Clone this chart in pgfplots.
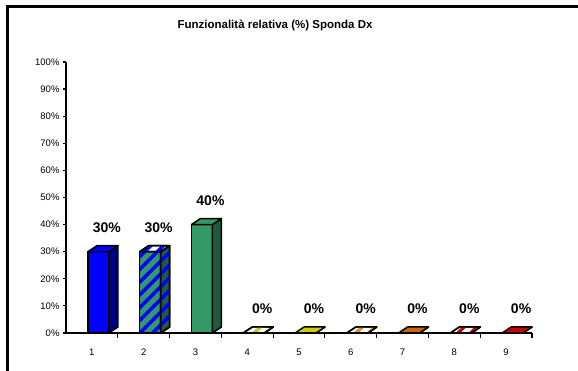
\documentclass[border=0pt]{standalone}
\usepackage{fontspec}
\setmainfont{Liberation Sans}
\usepackage{pgfplots}
\pgfplotsset{compat=1.18}
\usetikzlibrary{patterns.meta}

\definecolor{barblue}{RGB}{0,0,255}
\definecolor{barblueside}{RGB}{0,0,128}
\definecolor{bargreen}{RGB}{51,153,102}
\definecolor{bargreenside}{RGB}{30,92,61}
\definecolor{baryellow}{RGB}{204,204,0}
\definecolor{barorange}{RGB}{204,102,0}
\definecolor{barlightorange}{RGB}{230,140,20}
\definecolor{barred}{RGB}{204,0,0}

\tikzset{stripes/.style={postaction={pattern={Lines[angle=45,distance=9bp,line width=3.5bp]},pattern color=#1}}}

% one column drawn at its data point: front face from -4bp to 17bp around the
% category centre, side and top faces receding by (9bp,6bp);
% one percent on the value axis is 2.71bp long
\pgfplotsset{
  box3d/.style n args={3}{
    scatter, only marks, mark=*, mark size=0pt,
    mark options={draw=none,fill=none},
    visualization depends on={rawy \as \colval},
    scatter/@pre marker code/.code={%
      \pgfmathsetlengthmacro\colH{\colval*2.71bp}%
      \begin{scope}[draw=black, line width=1.5bp, line join=round]
        \path[#1,draw] (-4bp,-\colH) rectangle (17bp,0bp);
        \path[#2,draw] (17bp,-\colH) -- ++(9bp,6bp) -- ++(0bp,\colH) -- (17bp,0bp) -- cycle;
        \path[#3,draw] (-4bp,0bp) -- (17bp,0bp) -- (26bp,6bp) -- (5bp,6bp) -- cycle;
      \end{scope}
      \node[font=\fontsize{14bp}{16bp}\selectfont\bfseries, anchor=base,
            inner sep=0pt, text=black] at (15bp,19bp)
        {\pgfmathprintnumber{\colval}\%};
    },
    scatter/@post marker code/.code={},
  },
}

\begin{document}
\begin{tikzpicture}
\useasboundingbox (0,0) rectangle (578bp,371bp);
\fill[white] (0,0) rectangle (578bp,371bp);
\draw[line width=2.6bp] (7.3bp,0) -- (7.3bp,364.7bp) -- (578bp,364.7bp);

\node[font=\fontsize{11.5bp}{13bp}\selectfont\bfseries] at (275bp,346bp)
  {Funzionalità relativa (\%) Sponda Dx};

\begin{axis}[
  at={(66bp,38bp)}, anchor=south west,
  scale only axis, width=466bp, height=271bp,
  xmin=0.5, xmax=9.5, ymin=0, ymax=100,
  clip=false,
  axis lines*=left,
  axis line style={line width=1.6bp, black},
  xtick={1,...,9},
  minor xtick={1.5,2.5,...,9.5},
  major x tick style={draw=none},
  ytick={0,10,...,100},
  yticklabel={\pgfmathprintnumber{\tick}\%},
  tick align=outside,
  tick style={black, line width=1.2bp},
  major tick length=3bp, minor tick length=5bp,
  tick label style={font=\fontsize{9.5bp}{11bp}\selectfont},
  /pgf/number format/assume math mode=true,
  xticklabel style={yshift=-9bp},
]
\addplot[box3d={fill=barblue}{fill=barblueside}{fill=barblue}]
  coordinates {(1,30)};
\addplot[box3d={fill=bargreen,stripes=barblue}{fill=bargreenside,stripes=barblue}{fill=white,stripes=barblue}]
  coordinates {(2,30)};
\addplot[box3d={fill=bargreen}{fill=bargreenside}{fill=bargreen}]
  coordinates {(3,40)};
\addplot[box3d={fill=white,stripes=baryellow}{fill=white}{fill=white,stripes=baryellow}]
  coordinates {(4,0)};
\addplot[box3d={fill=baryellow}{fill=baryellow}{fill=baryellow}]
  coordinates {(5,0)};
\addplot[box3d={fill=white,stripes=barlightorange}{fill=white}{fill=white,stripes=barlightorange}]
  coordinates {(6,0)};
\addplot[box3d={fill=barorange}{fill=barorange}{fill=barorange}]
  coordinates {(7,0)};
\addplot[box3d={fill=white,stripes=barred}{fill=white}{fill=white,stripes=barred}]
  coordinates {(8,0)};
\addplot[box3d={fill=barred}{fill=barred}{fill=barred}]
  coordinates {(9,0)};
\end{axis}
\end{tikzpicture}
\end{document}
